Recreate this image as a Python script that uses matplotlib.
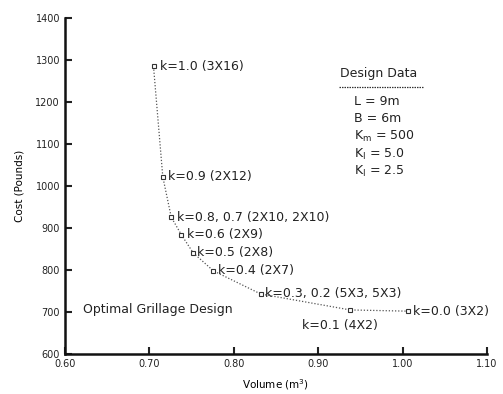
import matplotlib.pyplot as plt

# optimal designs
volume = [0.705, 0.716, 0.726, 0.738, 0.752, 0.776, 0.832, 0.938, 1.007]
cost = [1285, 1022, 926, 884, 841, 798, 743, 705, 702]
labels = ["k=1.0 (3X16)", "k=0.9 (2X12)", "k=0.8, 0.7 (2X10, 2X10)",
          "k=0.6 (2X9)", "k=0.5 (2X8)", "k=0.4 (2X7)",
          "k=0.3, 0.2 (5X3, 5X3)", "k=0.1 (4X2)", "k=0.0 (3X2)"]
# label offsets in points
offsets = [(5, 0), (4, 0), (4, 0), (4, 0), (3, 0), (3, 0), (3, 0), (-35, -11), (3, 0)]

design_items = ["L = 9m", "B = 6m", "K$_\\mathregular{m}$ = 500",
                "K$_\\mathregular{l}$ = 5.0", "K$_\\mathregular{l}$ = 2.5"]

plt.rcParams['font.family'] = ['DejaVu Sans']
fig = plt.figure(figsize=(5.03, 3.94), dpi=100)
ax = fig.add_axes([0.129, 0.1015, 0.839, 0.8525])

ax.plot(volume, cost, color="#555555", linestyle=(0, (1, 1.5)), linewidth=0.9)
ax.plot(volume, cost, linestyle="none", marker="s", markersize=3.5,
        markerfacecolor="white", markeredgecolor="#333333", markeredgewidth=0.8)

for v, c, lab, off in zip(volume, cost, labels, offsets):
    ax.annotate(lab, (v, c), xytext=off, textcoords="offset points",
                ha="left", va="center", fontsize=9, color="#222222")

ax.text(0.622, 707, "Optimal Grillage Design", fontsize=9, color="#222222",
        ha="left", va="center")

# design data box
ax.text(0.972, 1269, "Design Data", fontsize=9, ha="center", va="center", color="#222222")
ax.plot([0.925, 1.025], [1236, 1236], color="#333333", linestyle=(0, (1.2, 0.8)), linewidth=0.9)
for i, item in enumerate(design_items):
    ax.text(0.942, 1202 - i * 42, item, fontsize=9, ha="left", va="center", color="#222222")

ax.set_xlim(0.6, 1.1)
ax.set_ylim(600, 1400)
ax.set_xticks([0.6, 0.7, 0.8, 0.9, 1.0, 1.1])
ax.set_xticklabels(["0.60", "0.70", "0.80", "0.90", "1.00", "1.10"])
ax.set_yticks(range(600, 1401, 100))
ax.tick_params(direction="in", length=5, width=1.5, labelsize=7, colors="#222222")
for s in ["top", "right"]:
    ax.spines[s].set_visible(False)
for s in ["left", "bottom"]:
    ax.spines[s].set_linewidth(1.8)
    ax.spines[s].set_color("#111111")

ax.set_xlabel("Volume (m$^\\mathregular{3}$)", fontsize=7.5, labelpad=6)
ax.set_ylabel("Cost (Pounds)", fontsize=7.5, labelpad=8)

fig.savefig("out.png", dpi=100)
